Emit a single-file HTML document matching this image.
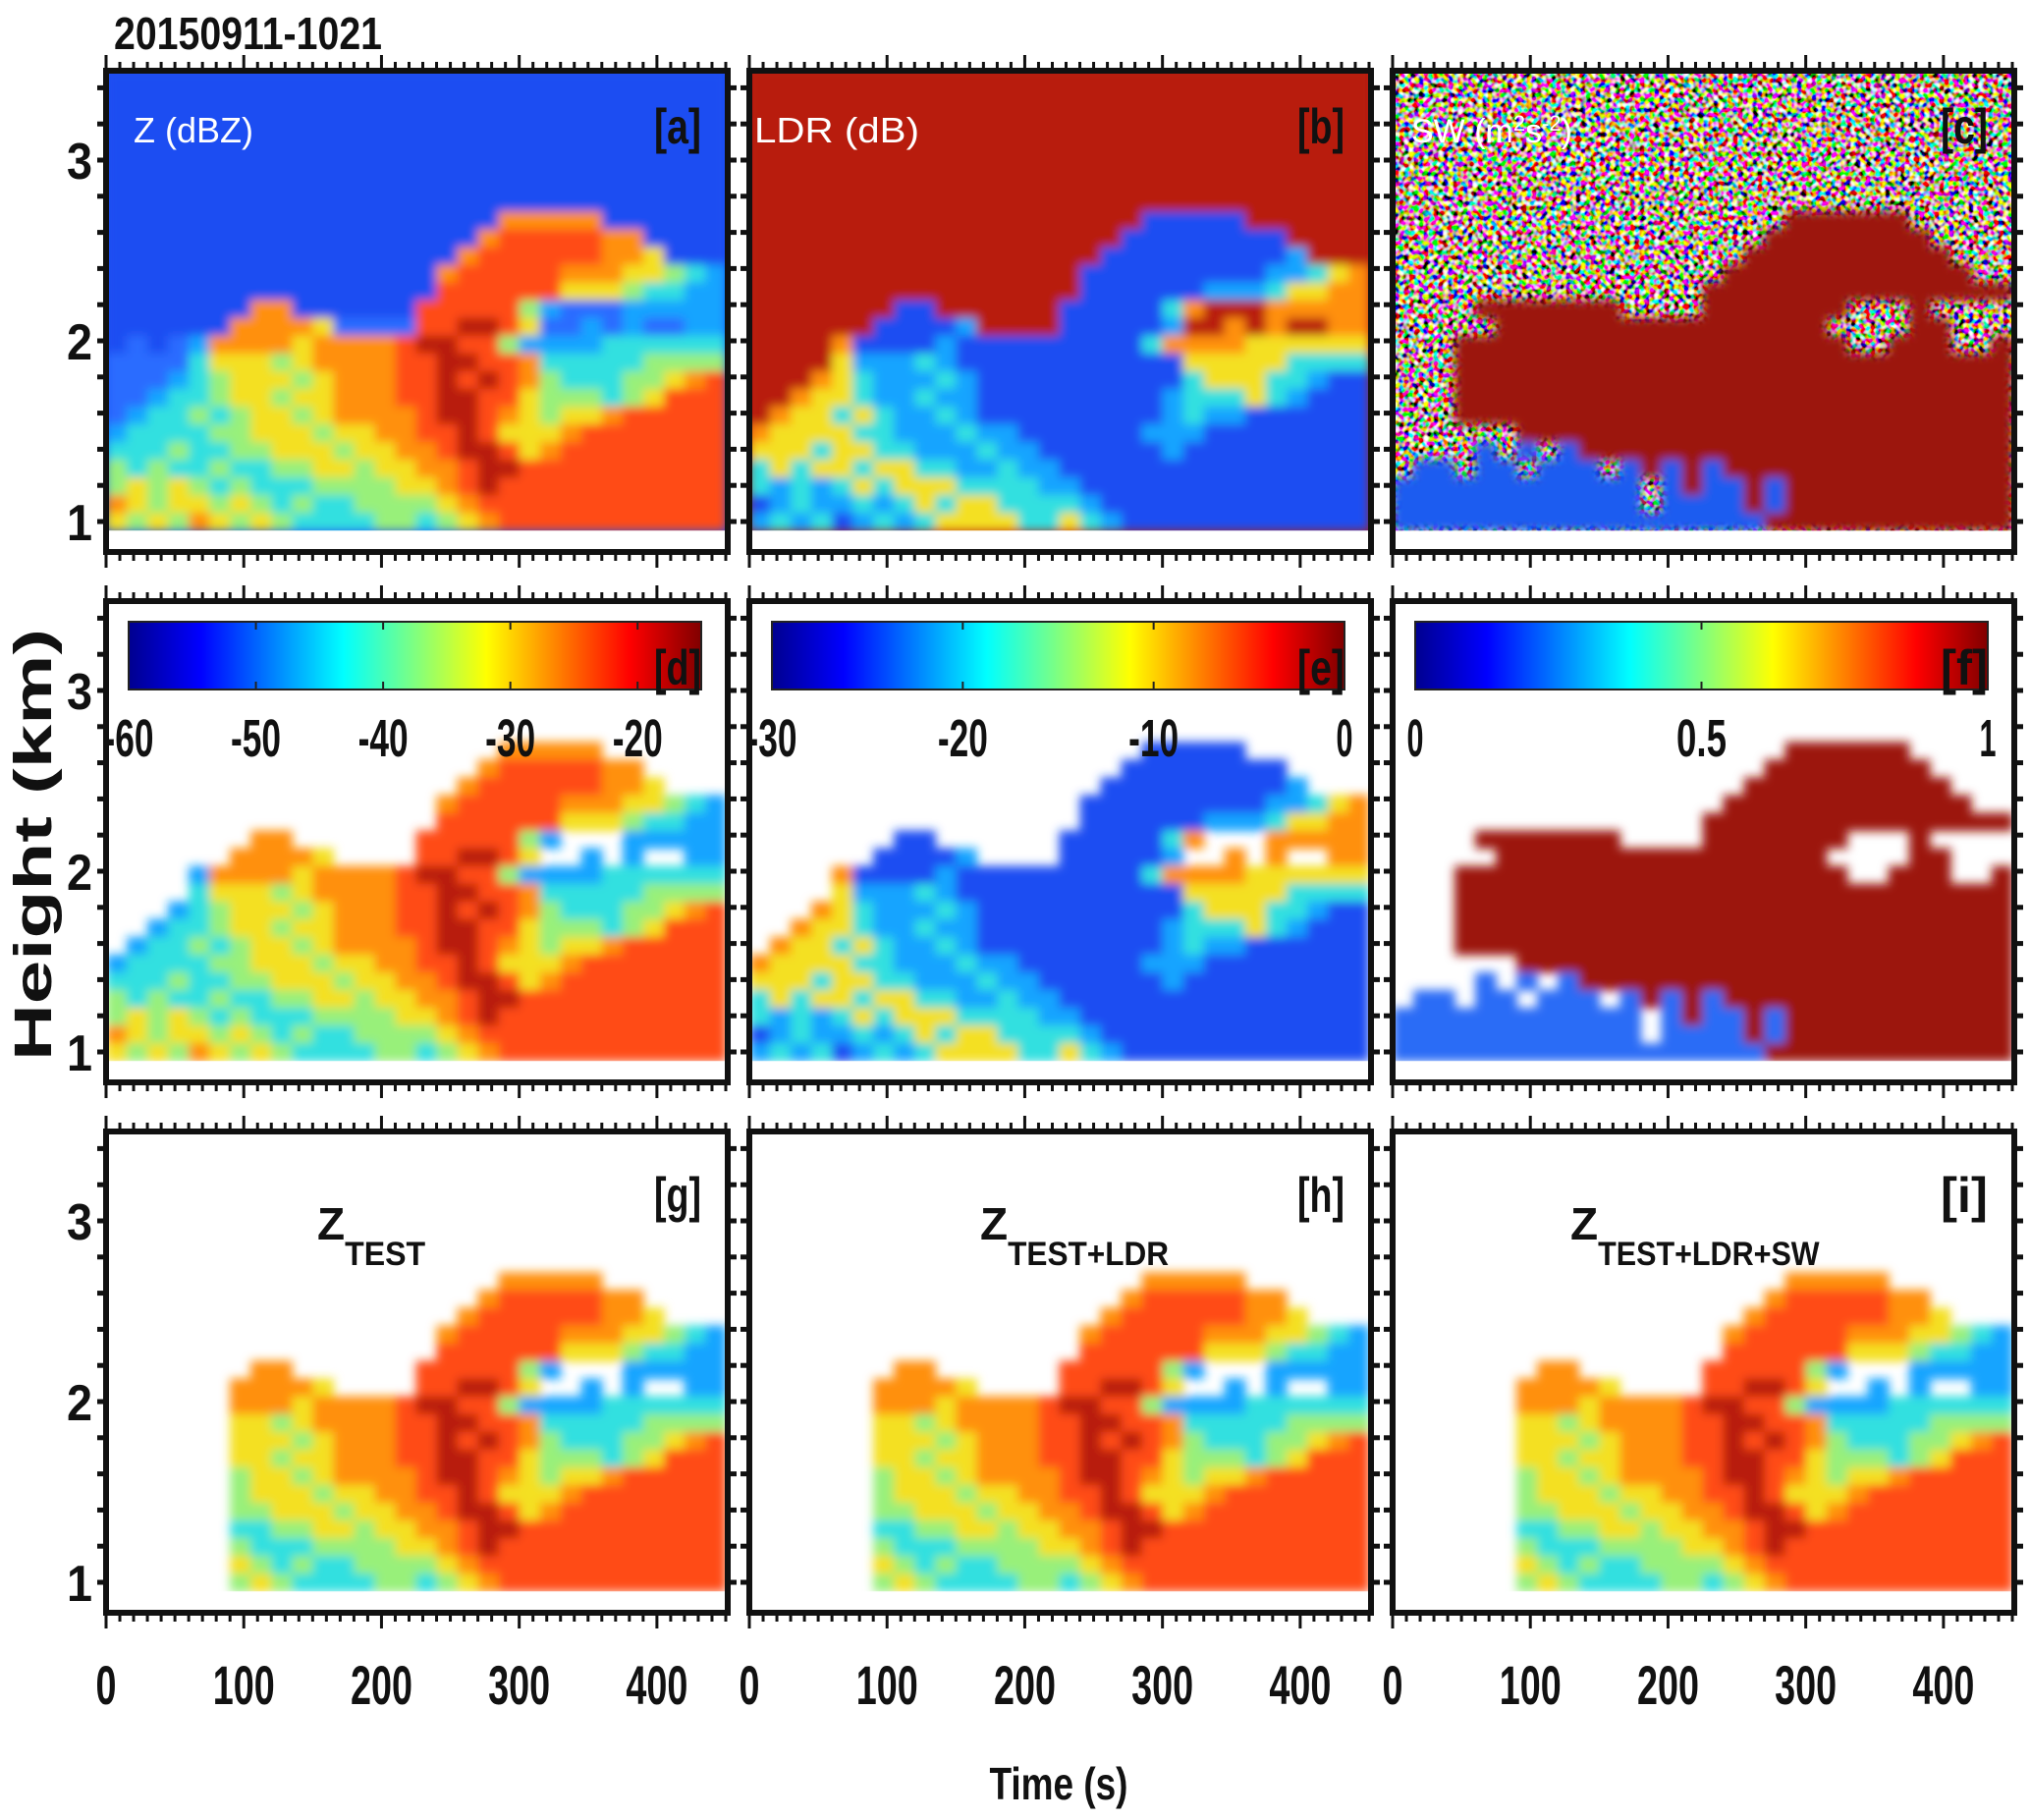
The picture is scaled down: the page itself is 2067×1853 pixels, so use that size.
<!DOCTYPE html>
<html><head><meta charset="utf-8">
<style>
html,body{margin:0;padding:0;background:#fff;}
svg{display:block;font-family:"Liberation Sans",sans-serif;}
</style></head>
<body>
<svg id="fig" width="2067" height="1853" viewBox="0 0 2067 1853" xmlns="http://www.w3.org/2000/svg">
<defs>
<linearGradient id="jet" x1="0" x2="1" y1="0" y2="0">
<stop offset="0" stop-color="#00008f"/><stop offset="0.125" stop-color="#0000ff"/><stop offset="0.375" stop-color="#00ffff"/><stop offset="0.625" stop-color="#ffff00"/><stop offset="0.875" stop-color="#ff0000"/><stop offset="1" stop-color="#800000"/>
</linearGradient>
<filter id="soft" x="-5%" y="-5%" width="110%" height="110%"><feGaussianBlur stdDeviation="5"/></filter>
</defs>
<text x="116" y="50" font-size="46" font-weight="bold" textLength="273" lengthAdjust="spacingAndGlyphs" fill="#111">20150911-1021</text>
<text transform="translate(52,860) rotate(-90)" text-anchor="middle" font-size="54" font-weight="bold" textLength="440" lengthAdjust="spacingAndGlyphs" fill="#111">Height (km)</text>
<text x="1078" y="1832" text-anchor="middle" font-size="46" font-weight="bold" textLength="141" lengthAdjust="spacingAndGlyphs" fill="#111">Time (s)</text>
<g id="panels"></g>
</svg>
<script>
// ---- data ----
const timeRange = [0, 450];
const kmRange = [0.95, 3.5];
const yTicks = [1, 2, 3];
const xTicks = [0, 100, 200, 300, 400];
const cbZTicks = [-60, -50, -40, -30, -20];
const cbZRange = [-60, -15];
const cbLDRTicks = [-30, -20, -10, 0];
const cbLDRRange = [-30, 0];
const cbSWTicks = [0, 0.5, 1];
const cbSWRange = [0, 1];
const testStart = 85;
// Z reflectivity levels (0..9 on jet scale), rows top (3.5 km) to bottom (0.95 km), 15 s columns
const zRows = [
"111111111111111111111111111111",
"111111111111111111111111111111",
"111111111111111111111111111111",
"111111111111111111111111111111",
"111111111111111111111111111111",
"111111111111111111111111111111",
"111111111111111111111111111111",
"111111111111111111111111111111",
"111111111111111111177777111111",
"111111111111111111788888771111",
"111111111111111117888888776111",
"111111111111111178888877766543",
"111111111111111188888866654433",
"111111177111111888885322233333",
"111111777762222889986223232233",
"121237777677778998853333444444",
"222246665677778899887444445555",
"222345666567778898987544455678",
"223445665667778899886555456888",
"234454566567777899876566788888",
"344445566656677889866678888888",
"444544556665667789986788888888",
"545445445566566778998888888888",
"565654544455556678988888888888",
"765665654544555567888888888888",
"656576565444455456788888888888"
];
// spectrum width classes: n = noise, r = high (dark red), b = low (blue)
const swRows = [
"nnnnnnnnnnnnnnnnnnnnnnnnnnnnnn",
"nnnnnnnnnnnnnnnnnnnnnnnnnnnnnn",
"nnnnnnnnnnnnnnnnnnnnnnnnnnnnnn",
"nnnnnnnnnnnnnnnnnnnnnnnnnnnnnn",
"nnnnnnnnnnnnnnnnnnnnnnnnnnnnnn",
"nnnnnnnnnnnnnnnnnnnnnnnnnnnnnn",
"nnnnnnnnnnnnnnnnnnnnnnnnnnnnnn",
"nnnnnnnnnnnnnnnnnnnnnnnnnnnnnn",
"nnnnnnnnnnnnnnnnnnnrrrrrrnnnnn",
"nnnnnnnnnnnnnnnnnnrrrrrrrrnnnn",
"nnnnnnnnnnnnnnnnnrrrrrrrrrrnnn",
"nnnnnnnnnnnnnnnnrrrrrrrrrrrrnn",
"nnnnnnnnnnnnnnnrrrrrrrrrrrrrrr",
"nnnnrrrrrrrnnnnrrrrrrrnnnrnnnn",
"nnnnnrrrrrrrrrrrrrrrrnnnnrrnnn",
"nnnrrrrrrrrrrrrrrrrrrrnnrrrnnr",
"nnnrrrrrrrrrrrrrrrrrrrrrrrrrrr",
"nnnrrrrrrrrrrrrrrrrrrrrrrrrrrr",
"nnnrrrrrrrrrrrrrrrrrrrrrrrrrrr",
"nnnrrrrrrrrrrrrrrrrrrrrrrrrrrr",
"nnnnnnrrrrrrrrrrrrrrrrrrrrrrrr",
"nnnnbnbnbrrrrrrrrrrrrrrrrrrrrr",
"nbbnbbnbbbnbrbrbrrrrrrrrrrrrrr",
"bbbbbbbbbbbbnbrbbrbrrrrrrrrrrr",
"bbbbbbbbbbbbnbbbbrbrrrrrrrrrrr",
"bbbbbbbbbbbbbbbbbbrrrrrrrrrrrr"
];
const ldrFromZ = [9, 9, 9, 7, 6, 4, 3, 1, 1, 1];
const zColors = ["#0010c0","#1a4ef2","#2a6cff","#12a4ff","#30e0e0","#98f07a","#f4e020","#ff9010","#ff4c12","#b81a0a"];

// ---- layout ----
const NS = "http://www.w3.org/2000/svg";
const colLeft = [108, 763, 1418];
const plotW = 631, frameW = 633;
const rowStep = 540;
function xScale(s, c) { return colLeft[c] + (s - timeRange[0]) / (timeRange[1] - timeRange[0]) * plotW; }
function yScale(km, r) { return 531 + r * rowStep - (km - 1) * 184; }
function frameTop(r) { return 72 + r * rowStep; }
function frameBot(r) { return 562 + r * rowStep; }
const root = document.getElementById("panels");
function mk(tag, attrs, parent) {
  const el = document.createElementNS(NS, tag);
  for (const k in attrs) el.setAttribute(k, attrs[k]);
  parent.appendChild(el);
  return el;
}
const nCols = zRows[0].length, nRows = zRows.length;
const dt = (timeRange[1] - timeRange[0]) / nCols;
const dkm = (kmRange[1] - kmRange[0]) / nRows;

function cellRect(g, i, j, c, r, color, name) {
  const x0 = xScale(timeRange[0] + i * dt, c), x1 = xScale(timeRange[0] + (i + 1) * dt, c);
  const y0 = yScale(kmRange[1] - j * dkm, r), y1 = yScale(kmRange[1] - (j + 1) * dkm, r);
  const el = mk("rect", {x: x0.toFixed(1), y: y0.toFixed(1), width: (x1 - x0 + 0.6).toFixed(1), height: (y1 - y0 + 0.6).toFixed(1), fill: color}, g);
  
  
}

function txt(parent, s, x, y, size, opt) {
  const el = mk("text", {x: x, y: y, "font-size": size, fill: opt.fill || "#111", "text-anchor": opt.anchor || "start"}, parent);
  if (opt.bold) el.setAttribute("font-weight", "bold");
  if (opt.len) { el.setAttribute("textLength", opt.len); el.setAttribute("lengthAdjust", "spacingAndGlyphs"); }
  el.textContent = s;
  return el;
}

function panel(c, r, kind, label) {
  const g = mk("g", {}, root);
  
  
  const L = colLeft[c], T = frameTop(r), B = frameBot(r);
  const dTop = yScale(kmRange[1], r), dBot = yScale(kmRange[0], r);
  const clipId = "clip" + label;
  const cp = mk("clipPath", {id: clipId}, g);
  mk("rect", {x: L, y: dTop, width: plotW, height: dBot - dTop}, cp);
  const data = mk("g", {"clip-path": "url(#" + clipId + ")"}, g);
  
  
  if (kind === "z") {
    const bg = mk("rect", {x: L, y: dTop, width: plotW, height: dBot - dTop, fill: zColors[1]}, data);
    
    
  } else if (kind === "ldr") {
    const bg = mk("rect", {x: L, y: dTop, width: plotW, height: dBot - dTop, fill: zColors[9]}, data);
    
    
  } else if (kind === "sw") {
    const f = mk("filter", {id: "noise" + label, filterUnits: "userSpaceOnUse", x: L, y: dTop, width: plotW, height: dBot - dTop}, g);
    mk("feTurbulence", {type: "fractalNoise", baseFrequency: "0.2", numOctaves: "1", seed: "7"}, f);
    mk("feColorMatrix", {type: "matrix", values: "4.5 0 0 0 -1.75  0 4.5 0 0 -1.85  0 0 4.5 0 -1.9  0 0 0 0 1"}, f);
    const bg = mk("rect", {x: L, y: dTop, width: plotW, height: dBot - dTop, fill: "#808080", filter: "url(#noise" + label + ")"}, data);
    
    
  }
  const cells = mk("g", {filter: "url(#soft)"}, data);
  for (let j = 0; j < nRows; j++) {
    for (let i = 0; i < nCols; i++) {
      const z = +zRows[j][i];
      const tMid = timeRange[0] + (i + 0.5) * dt;
      const sw = swRows[j][i];
      if (kind === "z") cellRect(cells, i, j, c, r, zColors[z], "z-cell");
      else if (kind === "zm") { if (z >= 3) cellRect(cells, i, j, c, r, zColors[z], "z-masked-cell"); }
      else if (kind === "ztest") { if (z >= 3 && tMid >= testStart) cellRect(cells, i, j, c, r, zColors[z], "z-test-cell"); }
      else if (kind === "ldr") cellRect(cells, i, j, c, r, zColors[ldrFromZ[z]], "ldr-cell");
      else if (kind === "ldrm") { if (z >= 3) cellRect(cells, i, j, c, r, zColors[ldrFromZ[z]], "ldr-masked-cell"); }
      else if (kind === "sw" || kind === "swm") {
        if (sw === "r") cellRect(cells, i, j, c, r, "#9c1208", "sw-cell");
        else if (sw === "b") cellRect(cells, i, j, c, r, kind === "sw" ? "#1a5cf0" : "#2a6cf6", "sw-cell");
      }
    }
  }
  const tk = mk("g", {stroke: "#111", "stroke-width": 3}, g);
  
  
  for (let s = 0; s <= 450; s += 10) {
    const x = xScale(s, c);
    const len = (s % 100 === 0) ? 16 : 9;
    mk("line", {x1: x, x2: x, y1: T, y2: T - len}, tk);
    mk("line", {x1: x, x2: x, y1: B, y2: B + len}, tk);
  }
  for (let k = 1; k <= 3.41; k += 0.2) {
    const y = yScale(k, r);
    mk("line", {x1: L - 9, x2: L, y1: y, y2: y, "stroke-width": 5}, tk);
    mk("line", {x1: L + frameW, x2: L + frameW + 9, y1: y, y2: y, "stroke-width": 5}, tk);
  }
  const fr = mk("rect", {x: L, y: T, width: frameW, height: B - T, fill: "none", stroke: "#111", "stroke-width": 6}, g);
  
  
  return g;
}

function panelLabel(c, r) {
  const L = colLeft[c];
  const ly = r === 1 ? frameTop(r) + 85 : (r === 0 ? 146 : frameTop(r) + 82);
  const pl = txt(root, "[" + labels[r][c] + "]", L + 606, ly, 50, {bold: true, anchor: "end", len: 48});
  
  
}

const kinds = [["z", "ldr", "sw"], ["zm", "ldrm", "swm"], ["ztest", "ztest", "ztest"]];
const labels = [["a", "b", "c"], ["d", "e", "f"], ["g", "h", "i"]];
for (let r = 0; r < 3; r++) for (let c = 0; c < 3; c++) {
  panel(c, r, kinds[r][c], labels[r][c]);
  if (r !== 1) panelLabel(c, r);
}

const vl1 = txt(root, "Z (dBZ)", 136, 145, 36, {fill: "#fff", len: 122});


const vl2 = txt(root, "LDR (dB)", 768, 145, 36, {fill: "#fff", len: 168});


const vl3 = mk("text", {x: 1437, y: 145, "font-size": 34, fill: "#fff"}, root);


vl3.innerHTML = 'SW (m<tspan dy="-12" font-size="22">2</tspan><tspan dy="12">s</tspan><tspan dy="-12" font-size="22">-2</tspan><tspan dy="12">)</tspan>';

const cbSpecs = [[cbZTicks, cbZRange], [cbLDRTicks, cbLDRRange], [cbSWTicks, cbSWRange]];
for (let c = 0; c < 3; c++) {
  const L = colLeft[c];
  const x0 = L + 23, x1 = L + 606, y0 = frameTop(1) + 21, y1 = frameTop(1) + 90;
  const cg = mk("g", {}, root);
  
  
  const bar = mk("rect", {x: x0, y: y0, width: x1 - x0, height: y1 - y0, fill: "url(#jet)", stroke: "#222", "stroke-width": 2}, cg);
  
  
  const ticks = cbSpecs[c][0], rng = cbSpecs[c][1];
  ticks.forEach(function (v) {
    const x = x0 + (v - rng[0]) / (rng[1] - rng[0]) * (x1 - x0);
    mk("line", {x1: x, x2: x, y1: y1, y2: y1 - 8, stroke: "#222", "stroke-width": 2}, cg);
    mk("line", {x1: x, x2: x, y1: y0, y2: y0 + 8, stroke: "#222", "stroke-width": 2}, cg);
    const s = String(v);
    const t = txt(cg, s, x, y1 + 68, 54, {anchor: "middle", bold: true, len: s.length * 17});
    
    
  });
  panelLabel(c, 1);
}
for (let c = 0; c < 3; c++) {
  const ln = mk("line", {x1: colLeft[c], x2: colLeft[c], y1: frameTop(1), y2: frameBot(1), stroke: "#111", "stroke-width": 6}, root);
  
  
}

const methodSubs = ["TEST", "TEST+LDR", "TEST+LDR+SW"];
const methodX = [323, 998, 1599];
for (let c = 0; c < 3; c++) {
  const t = mk("text", {x: methodX[c], y: 1262, "font-size": 46, fill: "#111", "font-weight": "bold"}, root);
  
  
  t.innerHTML = 'Z<tspan dy="26" font-size="34" textLength="' + (methodSubs[c].length * 20.5) + '" lengthAdjust="spacingAndGlyphs">' + methodSubs[c] + '</tspan>';
}

for (let r = 0; r < 3; r++) {
  yTicks.forEach(function (k) {
    const t = txt(root, String(k), 94, yScale(k, r) + 19, 52, {anchor: "end", bold: true, len: 26});
    
    
  });
}
for (let c = 0; c < 3; c++) {
  xTicks.forEach(function (s) {
    const str = String(s);
    const t = txt(root, str, xScale(s, c), 1735, 56, {anchor: "middle", bold: true, len: str.length * 21});
    
    
  });
}
</script>
</body></html>
